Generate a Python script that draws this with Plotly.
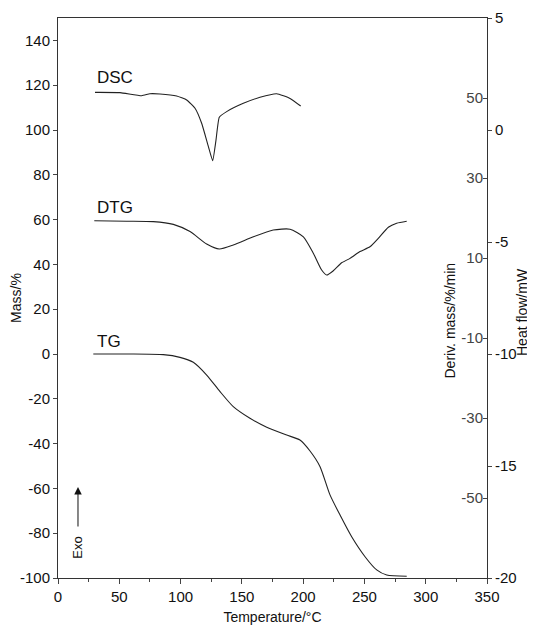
import plotly.graph_objects as go

# ---- data ----
dsc_T = [30.2, 50.6, 68.3, 75.0, 83.2, 96.8, 105.0, 111.8, 117.2, 122.7, 126.2, 128.9, 131.6, 137.6, 151.2, 164.8, 178.4, 189.3, 198.0]
dsc_hf = [1.68, 1.67, 1.53, 1.62, 1.61, 1.52, 1.34, 0.97, 0.30, -0.74, -1.37, -0.45, 0.57, 0.82, 1.19, 1.46, 1.62, 1.41, 1.07]

dtg_T = [29.6, 56.0, 77.8, 94.1, 107.7, 121.3, 131.6, 143.0, 159.4, 175.6, 189.3, 200.2, 208.3, 215.1, 219.2, 224.6, 231.4, 238.2, 246.4, 254.5, 261.3, 269.5, 276.3, 284.5]
dtg_d = [19.3, 19.2, 19.1, 18.4, 16.6, 13.5, 12.25, 13.25, 15.3, 17.0, 17.2, 15.3, 11.2, 7.0, 5.75, 6.8, 8.8, 9.9, 11.6, 12.8, 14.9, 17.7, 18.7, 19.2]

tg_T = [28.8, 58.7, 85.9, 99.5, 110.4, 121.3, 132.2, 143.0, 156.6, 170.3, 186.6, 197.4, 205.6, 213.8, 221.9, 230.1, 239.6, 250.5, 260.0, 268.2, 284.5]
tg_m = [0.0, 0.0, -0.3, -1.5, -3.7, -9.4, -16.8, -23.5, -28.7, -32.7, -36.2, -38.4, -43.3, -50.3, -62.9, -71.9, -81.6, -90.5, -96.4, -98.7, -99.2]

x_ticks = [0, 50, 100, 150, 200, 250, 300, 350]
x_labels = ["0", "50", "100", "150", "200", "250", "300", "350"]
mass_ticks = [-100, -80, -60, -40, -20, 0, 20, 40, 60, 80, 100, 120, 140]
mass_labels = ["-100", "-80", "-60", "-40", "-20", "0", "20", "40", "60", "80", "100", "120", "140"]
deriv_ticks = [50, 30, 10, -10, -30, -50]
deriv_labels = ["50", "30", "10", "-10", "-30", "-50"]
hf_ticks = [5, 0, -5, -10, -15, -20]
hf_labels = ["5", "0", "-5", "-10", "-15", "-20"]

curve_labels = ["DSC", "DTG", "TG"]
curve_label_T = [30, 30, 30]
curve_label_mass = [123.5, 65.5, 5.5]

FONT = "Liberation Sans, Arial, Helvetica, sans-serif"
LINE = "#222222"

fig = go.Figure()
fig.add_trace(go.Scatter(x=tg_T, y=tg_m, mode="lines", line=dict(color=LINE, width=1.1, shape="spline", smoothing=0.6), yaxis="y", showlegend=False))
fig.add_trace(go.Scatter(x=dtg_T, y=dtg_d, mode="lines", line=dict(color=LINE, width=1.1, shape="spline", smoothing=0.6), yaxis="y2", showlegend=False))
fig.add_trace(go.Scatter(x=dsc_T, y=dsc_hf, mode="lines", line=dict(color=LINE, width=1.1, shape="spline", smoothing=0.4), yaxis="y3", showlegend=False))

annotations = []
for name, t, m in zip(curve_labels, curve_label_T, curve_label_mass):
    annotations.append(dict(x=t, y=m, xref="x", yref="y", text=name, showarrow=False,
                            xanchor="left", yanchor="middle", font=dict(size=17, color="#111", family=FONT)))

annotations += [
    dict(x=0.914, y=0.46, xref="paper", yref="paper", text="Deriv. mass/%/min", textangle=-90,
         xanchor="center", yanchor="middle",
         showarrow=False, font=dict(size=14, color="#111", family=FONT)),
    dict(x=1.0816, y=0.475, xref="paper", yref="paper", text="Heat flow/mW", textangle=-90,
         xanchor="center", yanchor="middle",
         showarrow=False, font=dict(size=14, color="#111", family=FONT)),
    dict(x=0.0466, y=0.1625, xref="paper", yref="paper", text="", showarrow=True,
         ax=0, ay=41, arrowhead=2, arrowsize=1.5, arrowwidth=1, arrowcolor="#111"),
    dict(x=0.0466, y=0.054, xref="paper", yref="paper", text="Exo", textangle=-90,
         xanchor="center", yanchor="middle",
         showarrow=False, font=dict(size=13, color="#111", family=FONT)),
]

# the page body adds an 8px offset; size the figure so the plot area lands where the reference has it
fig.update_layout(
    width=527, height=618,
    margin=dict(l=50, r=48, t=10, b=48, autoexpand=False),
    paper_bgcolor="white", plot_bgcolor="white",
    font=dict(family=FONT, size=15, color="#111"),
    xaxis=dict(range=[0, 350], tickvals=x_ticks, ticktext=x_labels, ticks="outside", ticklen=5,
               automargin=False, ticklabeloverflow="allow",
               showline=True, linecolor="#333", linewidth=1, mirror=True, showgrid=False, zeroline=False,
               minor=dict(ticks="outside", ticklen=3, tickvals=[25, 75, 125, 175, 225, 275, 325], showgrid=False),
               title=dict(text="Temperature/°C", font=dict(size=14), standoff=8)),
    yaxis=dict(range=[-100, 150], tickvals=mass_ticks, ticktext=mass_labels, ticks="outside", ticklen=4,
               automargin=False,
               showline=True, linecolor="#333", linewidth=1, showgrid=False, zeroline=False,
               title=dict(text="Mass/%", font=dict(size=14), standoff=6)),
    yaxis2=dict(range=[-70, 70], overlaying="y", side="right", tickvals=deriv_ticks, ticktext=deriv_labels,
                ticks="inside", ticklen=4, ticklabelposition="inside", ticklabeloverflow="allow",
                automargin=False, showline=False,
                showgrid=False, zeroline=False),
    yaxis3=dict(range=[-20, 5], overlaying="y", side="right", tickvals=hf_ticks, ticktext=hf_labels,
                ticks="outside", ticklen=4, showline=True, linecolor="#333", linewidth=1,
                automargin=False, ticklabeloverflow="allow",
                showgrid=False, zeroline=False),
    annotations=annotations,
)

fig.write_html("out.html")
